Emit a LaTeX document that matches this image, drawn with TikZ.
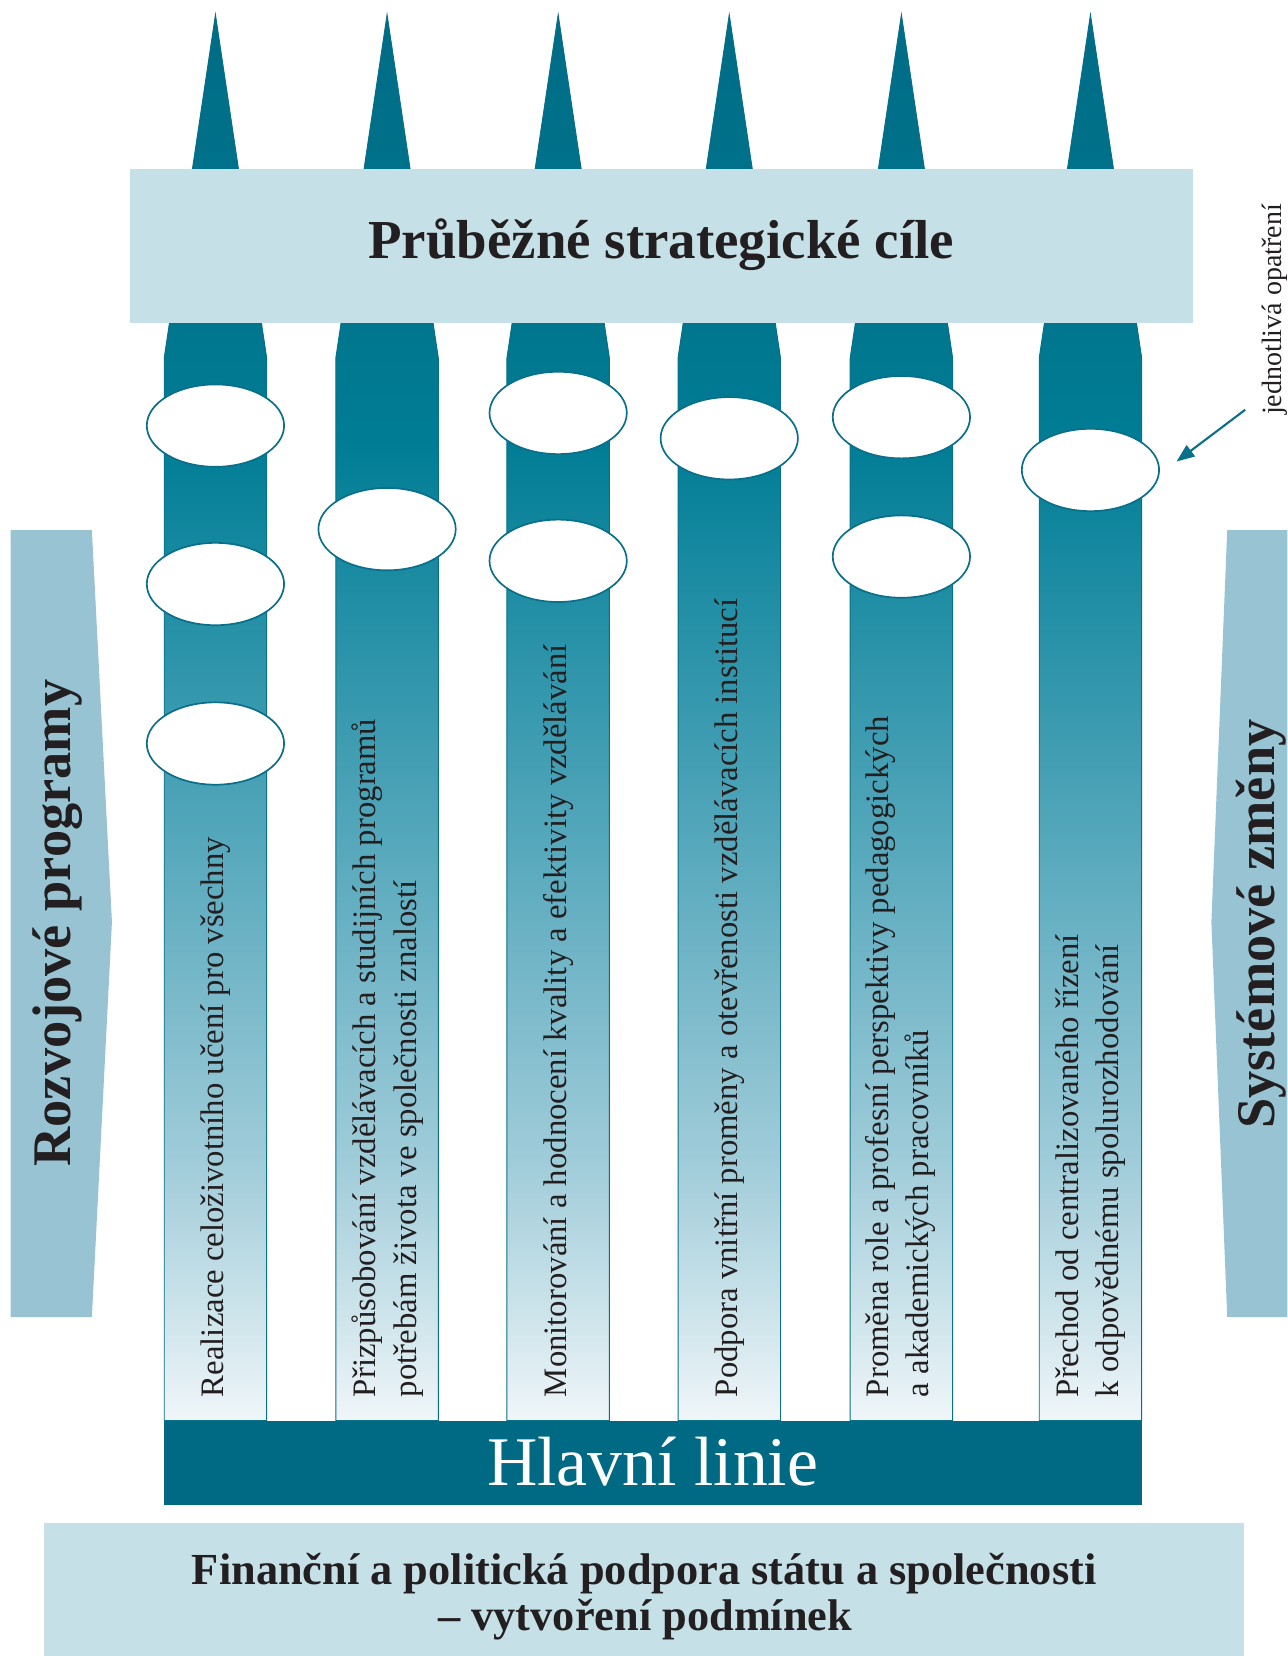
\documentclass[tikz,border=0pt]{standalone}
\usepackage{fontspec}
\setmainfont{Liberation Serif}
\usetikzlibrary{shapes.geometric,arrows.meta}
\definecolor{spike}{HTML}{006D87}
\definecolor{boxblue}{HTML}{C6E0E7}
\definecolor{sideblue}{HTML}{97C3D3}
\definecolor{barteal}{HTML}{006A84}
\definecolor{lineteal}{HTML}{0A6F88}
\definecolor{txt}{HTML}{231F20}
\definecolor{sA}{HTML}{F0F6F9}
\definecolor{sB}{HTML}{CFE5EC}
\definecolor{sC}{HTML}{A0CCD9}
\definecolor{sD}{HTML}{6FB4C6}
\definecolor{sE}{HTML}{3E9CB1}
\definecolor{sF}{HTML}{1C8CA3}
\definecolor{sG}{HTML}{007D95}
\definecolor{sH}{HTML}{00768E}
\definecolor{sI}{HTML}{006C86}
\pgfdeclareverticalshading{colshade}{100bp}{color(0bp)=(sA); color(25bp)=(sA); color(28.56bp)=(sB); color(34.2bp)=(sC); color(41.71bp)=(sD); color(49.23bp)=(sE); color(54.86bp)=(sF); color(59.75bp)=(sG); color(64.26bp)=(sH); color(75bp)=(sI); color(100bp)=(sI)}
\begin{document}
\begin{tikzpicture}[x=1pt,y=-1pt,
  colshape/.style={draw=lineteal,line width=0.9pt,shading=colshade},
  opat/.style={ellipse,draw=lineteal,line width=1.6pt,fill=white,minimum width=130pt,minimum height=78pt,inner sep=0pt},
  coltext/.style={rotate=90,anchor=west,inner sep=0pt,align=left,font=\fontsize{31}{38}\selectfont,text=txt},
  sidetext/.style={rotate=90,anchor=base,inner sep=0pt,font=\bfseries\fontsize{51.5}{56}\selectfont,text=txt},
  boldtext/.style={anchor=base,inner sep=0pt,text=txt},
  pointer/.style={draw=lineteal,line width=2pt,-{Triangle[length=17pt,width=13pt]}}]
\useasboundingbox (0,0) rectangle (1219,1568);
% columns
\foreach \c in {204,366.5,528.5,690.5,853.5,1032.5}{
  \path[colshape] (\c,14) -- (\c+48.5,339) -- (\c+48.5,1345) -- (\c-48.5,1345) -- (\c-48.5,339) -- cycle;
}
% top box
\fill[boxblue] (123,160) rectangle (1130,306);
\node[boldtext,font=\bfseries\fontsize{52}{58}\selectfont] (title) at (626,245) {Průběžné strategické cíle};
% ellipses
\node[opat] (e11) at (204,403) {};
\node[opat] (e12) at (204,553) {};
\node[opat] (e13) at (204,704) {};
\node[opat] (e21) at (366.5,501) {};
\node[opat] (e31) at (528.5,391) {};
\node[opat] (e32) at (528.5,531) {};
\node[opat] (e41) at (690.5,415) {};
\node[opat] (e51) at (853.5,395) {};
\node[opat] (e52) at (853.5,527) {};
\node[opat] (e61) at (1032.5,445) {};
% column texts
\node[coltext] (t1) at (204,1323) {Realizace celoživotního učení pro všechny};
\node[coltext] (t2) at (367,1323) {Přizpůsobování vzdělávacích a studijních programů\\potřebám života ve společnosti znalostí};
\node[coltext] (t3) at (529,1323) {Monitorování a hodnocení kvality a efektivity vzdělávání};
\node[coltext] (t4) at (691,1323) {Podpora vnitřní proměny a otevřenosti vzdělávacích institucí};
\node[coltext] (t5) at (853,1323) {Proměna role a profesní perspektivy pedagogických\\a akademických pracovníků};
\node[coltext] (t6) at (1033,1323) {Přechod od centralizovaného řízení\\k odpovědnému spolurozhodování};
% main bar
\fill[barteal] (155,1345) rectangle (1081,1425);
\node[anchor=base,inner sep=0pt,text=white,font=\fontsize{66}{70}\selectfont] (hl) at (618,1407) {Hlavní linie};
% side shapes
\fill[sideblue] (10,502) -- (87,502) -- (106,873) -- (87,1247) -- (10,1247) -- cycle;
\node[sidetext] (rp) at (67,874) {Rozvojové programy};
\fill[sideblue] (1162,502) -- (1219,502) -- (1219,1247) -- (1162,1247) -- (1147,873) -- cycle;
\node[sidetext] (sz) at (1207,875) {Systémové změny};
% bottom box
\fill[boxblue] (42,1442) rectangle (1178,1568);
\node[boldtext,font=\bfseries\fontsize{42}{48}\selectfont] (fin1) at (610,1500) {Finanční a politická podpora státu a společnosti};
\node[boldtext,font=\bfseries\fontsize{42}{48}\selectfont] (fin2) at (611,1544) {– vytvoření podmínek};
% pointer
\node[rotate=90,anchor=base west,inner sep=0pt,text=txt,font=\fontsize{26.5}{30}\selectfont] (lbl) at (1213,393) {jednotlivá opatření};
\coordinate (astart) at (1179,388);
\coordinate (aend) at (1114,437);
\draw[pointer] (astart) -- (aend);
\end{tikzpicture}
\end{document}
